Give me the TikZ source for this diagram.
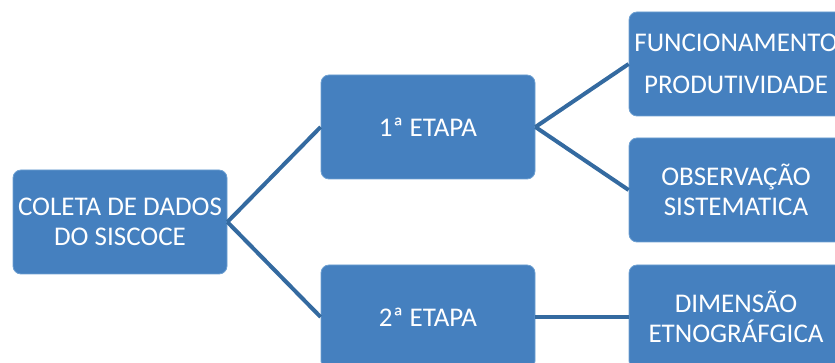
\documentclass[tikz,border=0pt]{standalone}
\usepackage{fontspec}
\setmainfont{Carlito}
\definecolor{boxblue}{RGB}{69,128,191}
\definecolor{boxedge}{RGB}{110,160,210}
\definecolor{linkblue}{RGB}{52,106,160}
\begin{document}
\begin{tikzpicture}[x=1pt, y=-1pt,
    etapa/.style={rectangle, rounded corners=8pt, fill=boxblue, draw=boxedge, line width=0.8pt,
        minimum width=214pt, minimum height=104pt, inner sep=1pt, align=center, text=white,
        font=\fontsize{27}{30}\selectfont},
    link/.style={linkblue, line width=4pt}]
    \useasboundingbox (0,0) rectangle (835,363);
    \clip (0,0) rectangle (835,363);

    % root and stages
    \node[etapa] (coleta) at (120,222) {COLETA DE DADOS\\DO SISCOCE};
    \node[etapa] (etapa1) at (428,127) {1ª ETAPA};
    \node[etapa] (etapa2) at (428,317) {2ª ETAPA};

    % leaves
    \node[etapa] (func) at (736,64) {FUNCIONAMENTO\\[12pt]PRODUTIVIDADE};
    \node[etapa] (obs) at (736,190) {OBSERVAÇÃO\\SISTEMATICA};
    \node[etapa] (dim) at (736,317) {DIMENSÃO\\ETNOGRÁFGICA};

    % connectors
    \draw[link] (coleta.east) -- (etapa1.west);
    \draw[link] (coleta.east) -- (etapa2.west);
    \draw[link] (etapa1.east) -- (func.west);
    \draw[link] (etapa1.east) -- (obs.west);
    \draw[link] (etapa2.east) -- (dim.west);
\end{tikzpicture}
\end{document}
